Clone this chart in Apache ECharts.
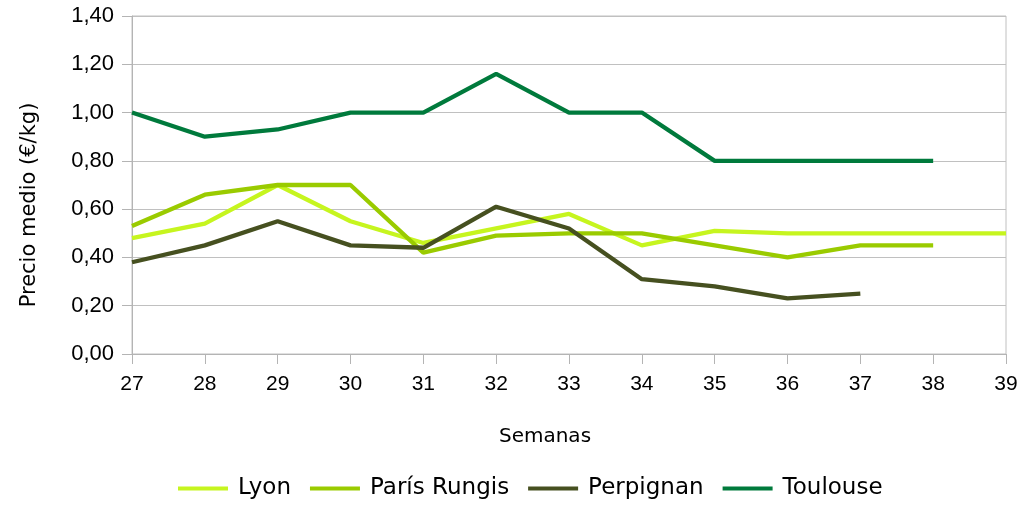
<!DOCTYPE html>
<html><head><meta charset="utf-8">
<script src="https://cdn.jsdelivr.net/npm/echarts@6/dist/echarts.min.js"></script>
<style>html,body{margin:0;padding:0;background:#fff}#c{width:1028px;height:505px}</style>
</head><body><div id="c"></div>
<script>
const weeks = [27,28,29,30,31,32,33,34,35,36,37,38,39];
const lyon = [0.48,0.54,0.70,0.55,0.46,0.52,0.58,0.45,0.51,0.50,0.50,0.50,0.50];
const paris = [0.53,0.66,0.70,0.70,0.42,0.49,0.50,0.50,0.45,0.40,0.45,0.45,null];
const perpignan = [0.38,0.45,0.55,0.45,0.44,0.61,0.52,0.31,0.28,0.23,0.25,null,null];
const toulouse = [1.00,0.90,0.93,1.00,1.00,1.16,1.00,1.00,0.80,0.80,0.80,0.80,null];
const seriesNames = ['Lyon','París Rungis','Perpignan','Toulouse'];
const colors = ['#c6f51f','#9acb00','#465020','#007a3c'];
const allData = [lyon, paris, perpignan, toulouse];

const chart = echarts.init(document.getElementById('c'), null, {renderer:'canvas'});
const font = 'Liberation Sans';
const font2 = 'DejaVu Sans';
chart.setOption({
  animation:false,
  grid:{left:132,right:22,top:16,bottom:151,show:true,borderColor:'#c0c0c0',borderWidth:1,backgroundColor:'transparent'},
  legend:{
    top:472,left:173,itemWidth:50,itemHeight:4,itemGap:19,icon:'rect',
    textStyle:{fontFamily:font2,fontSize:23,color:'#000',padding:[0,0,0,5]},
    data:seriesNames
  },
  xAxis:{
    type:'value',min:27,max:39,interval:1,
    name:'Semanas',nameLocation:'middle',nameGap:73,
    nameTextStyle:{fontFamily:font2,fontSize:20,color:'#000',padding:[0,48,0,0]},
    axisLine:{show:true,lineStyle:{color:'#b4b4b4',width:1}},
    axisTick:{show:true,length:10,lineStyle:{color:'#b4b4b4'}},
    axisLabel:{fontFamily:font,fontSize:21,color:'#000',margin:20},
    splitLine:{show:false}
  },
  yAxis:{
    type:'value',min:0,max:1.4,interval:0.2,
    name:'Precio medio (€/kg)',nameLocation:'middle',nameGap:92,
    nameTextStyle:{fontFamily:font2,fontSize:21,color:'#000',padding:[0,40,0,0]},
    axisLine:{show:true,lineStyle:{color:'#b4b4b4',width:1}},
    axisTick:{show:true,length:10,lineStyle:{color:'#b4b4b4'}},
    axisLabel:{fontFamily:font,fontSize:22,color:'#000',margin:18,formatter:v=>v.toFixed(2).replace('.',',')},
    splitLine:{show:true,lineStyle:{color:'#c0c0c0',width:1}}
  },
  series: seriesNames.map((n,i)=>({
    name:n,type:'line',showSymbol:false,symbol:'none',
    lineStyle:{width:4.3,color:colors[i]},itemStyle:{color:colors[i]},
    data: weeks.map((w,j)=>[w,allData[i][j]]).filter(p=>p[1]!==null)
  }))
});
</script></body></html>
